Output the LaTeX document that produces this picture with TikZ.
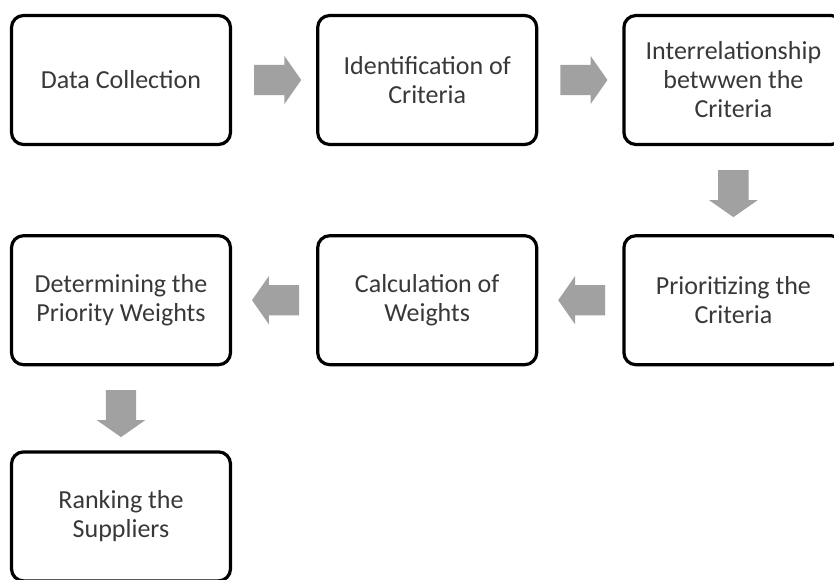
\documentclass[tikz,border=0pt]{standalone}
\usepackage{fontspec}
\setmainfont{Carlito}
\usetikzlibrary{calc,positioning,shapes.arrows}
\tikzstyle{block} = [draw, line width=3.2pt, rounded corners=12pt, rectangle,
    minimum width=219pt, minimum height=129pt, align=center, text=black!78,
    font=\fontsize{26}{29}\selectfont]
\tikzstyle{garrow} = [single arrow, fill=black!37, draw=none, inner xsep=0pt,
    inner ysep=15pt, minimum height=47pt, single arrow head extend=9pt,
    single arrow tip angle=110]

\begin{document}
\begin{tikzpicture}[node distance=88pt and 84pt]
    \useasboundingbox (0,0) rectangle (834pt,-580pt);

    % first row
    \node (datacoll) [block] at (121pt,-80pt) {Data Collection};
    \node (identcrit) [block,right=of datacoll] {Identification of\\Criteria};
    \node (interrel) [block,right=of identcrit] {Interrelationship\\betwwen the\\Criteria};

    % second row, right to left
    \node (priocrit) [block,below=of interrel] {Prioritizing the\\Criteria};
    \node (calcweights) [block,left=of priocrit] {Calculation of\\Weights};
    \node (prioweights) [block,left=of calcweights] {Determining the\\Priority Weights};

    % last one
    \node (ranksupp) [block,below=84pt of prioweights] {Ranking the\\Suppliers};

    % grey block arrows
    \node (a1) [garrow] at ($(datacoll.east)!.48!(identcrit.west)$) {};
    \node (a2) [garrow] at ($(identcrit.east)!.48!(interrel.west)$) {};
    \node (a3) [garrow,rotate=-90] at ($(interrel.south)!.48!(priocrit.north)$) {};
    \node (a4) [garrow,rotate=180] at ($(priocrit.west)!.42!(calcweights.east)$) {};
    \node (a5) [garrow,rotate=180] at ($(calcweights.west)!.42!(prioweights.east)$) {};
    \node (a6) [garrow,rotate=-90] at ($(prioweights.south)!.5!(ranksupp.north)$) {};
\end{tikzpicture}
\end{document}
